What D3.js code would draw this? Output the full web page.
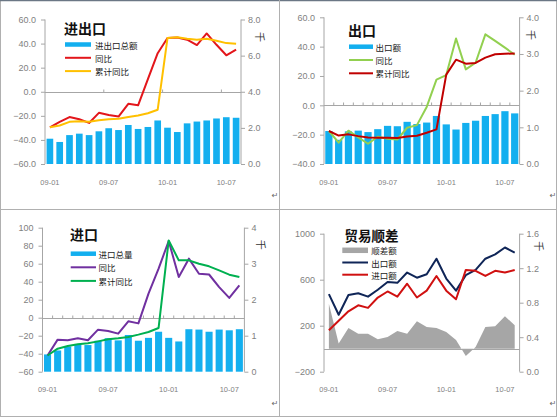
<!DOCTYPE html>
<html><head><meta charset="utf-8">
<script src="https://cdn.jsdelivr.net/npm/d3@7"></script>
<style>body{margin:0;background:#fff}svg{display:block}</style>
</head><body><svg id="c" width="557" height="417"></svg>
<script>
// ---- data ----
const months = ["09-01","09-02","09-03","09-04","09-05","09-06","09-07","09-08","09-09","09-10","09-11","09-12",
                "10-01","10-02","10-03","10-04","10-05","10-06","10-07","10-08"];
const shownLabels = ["09-01","09-07","10-01","10-07"];

// 进出口 (千 = right axis, % = left axis)
const totalTrade = [1.40,1.22,1.60,1.68,1.60,1.81,1.98,1.88,2.16,1.94,2.05,2.41,2.01,1.77,2.25,2.35,2.41,2.52,2.59,2.56];
const totalYoY   = [-29.5,-25.0,-21.0,-22.8,-25.9,-17.5,-19.3,-20.6,-10.0,-11.3,10.5,32.0,44.6,45.0,43.2,38.8,48.4,39.0,30.3,35.0];
const totalCum   = [-29.5,-28.0,-25.0,-24.5,-25.0,-23.6,-22.8,-22.5,-21.0,-19.7,-17.8,-14.9,44.6,45.3,44.0,43.2,44.0,42.4,40.4,39.9];

// 出口
const exportAmt  = [0.90,0.66,0.89,0.91,0.87,0.95,1.04,1.03,1.15,1.09,1.13,1.31,1.08,0.94,1.12,1.18,1.31,1.36,1.44,1.38];
const exportYoY  = [-17.5,-25.5,-17.3,-21.8,-26.2,-21.4,-22.8,-23.3,-15.3,-13.5,-1.1,17.5,20.6,45.5,24.5,29.0,48.4,43.9,39.3,34.5];
const exportCum  = [-17.5,-20.6,-19.8,-21.0,-22.0,-22.1,-22.1,-22.2,-21.2,-20.7,-18.7,-16.4,20.9,31.1,28.4,28.9,32.5,34.8,35.2,35.3];

// 进口
const importAmt  = [0.48,0.59,0.70,0.77,0.74,0.86,0.93,0.87,1.02,0.86,0.94,1.11,0.94,0.84,1.18,1.17,1.11,1.17,1.15,1.18];
const importYoY  = [-42.0,-24.4,-25.0,-22.9,-25.0,-13.3,-14.8,-17.7,-4.0,-6.3,26.7,54.5,85.2,45.2,65.6,48.9,48.0,34.0,22.0,36.0];
const importCum  = [-42.0,-34.4,-31.5,-29.6,-28.5,-26.3,-24.0,-22.9,-21.4,-18.8,-15.9,-11.4,85.9,63.7,63.7,60.0,57.1,52.6,47.8,45.2];

// 贸易顺差 (亿美元, left axis)
const surplus    = [391,45,180,130,130,82,102,154,130,238,189,180,145,75,-63,15,189,195,282,203];

// ---- styling ----
const BAR = "#13AFEF";
const AXIS = "#a6a6a6";
const TICKTXT = "#7f7f7f";
const NUMFONT = "'Liberation Sans', Arial, sans-serif";
const CJK = "'Noto Sans CJK SC', sans-serif";

const svg = d3.select("#c");

// panel frames (Word table borders)
svg.append("rect").attr("x",0.5).attr("y",0.5).attr("width",556).attr("height",416)
  .attr("fill","none").attr("stroke","#b0b0b0");
svg.append("line").attr("x1",0).attr("x2",557).attr("y1",0.5).attr("y2",0.5).attr("stroke","#6b7785").attr("stroke-width",1.5);
svg.append("line").attr("x1",279.5).attr("x2",279.5).attr("y1",0).attr("y2",417).attr("stroke","#b0b0b0");
svg.append("line").attr("x1",0).attr("x2",557).attr("y1",209.5).attr("y2",209.5).attr("stroke","#b0b0b0");

function drawPanel(cfg){
  const g = svg.append("g");
  const x = d3.scaleBand().domain(months).range([cfg.x0,cfg.x1]).paddingInner(cfg.pad).paddingOuter(cfg.pad/2);
  const cx = m => x(m) + x.bandwidth()/2;
  const yL = d3.scaleLinear().domain(cfg.left.domain).range([cfg.bottom,cfg.top]);
  const yR = d3.scaleLinear().domain(cfg.right.domain).range([cfg.bottom,cfg.top]);

  // bars (right axis)
  if (cfg.bars){
    g.selectAll(null).data(cfg.bars).enter().append("rect")
      .attr("x",(d,i)=>x(months[i])).attr("width",x.bandwidth())
      .attr("y",d=>yR(d)).attr("height",d=>yR(0)-yR(d)).attr("fill",BAR);
  }
  // area (left axis)
  if (cfg.area){
    const area = d3.area().x((d,i)=>cx(months[i])).y0(yL(0)).y1(d=>yL(d));
    g.append("path").datum(cfg.area.data).attr("d",area).attr("fill",cfg.area.color);
  }

  // left axis
  const la = d3.axisLeft(yL).tickValues(cfg.left.ticks).tickSize(4).tickPadding(5).tickFormat(d3.format(cfg.left.fmt));
  const lg = g.append("g").attr("transform",`translate(${cfg.x0},0)`).call(la);
  // right axis
  const ra = d3.axisRight(yR).tickValues(cfg.right.ticks).tickSize(4).tickPadding(3).tickFormat(d3.format(cfg.right.fmt));
  const rg = g.append("g").attr("transform",`translate(${cfg.x1},0)`).call(ra);
  [lg,rg].forEach(a=>{
    a.select(".domain").attr("stroke",AXIS).attr("d", null);
    a.selectAll(".tick line").attr("stroke",AXIS);
    a.selectAll("text").attr("fill",TICKTXT).attr("font-family",NUMFONT).attr("font-size",9);
  });
  g.append("line").attr("x1",cfg.x0).attr("x2",cfg.x0).attr("y1",cfg.top).attr("y2",cfg.bottom).attr("stroke",AXIS);
  g.append("line").attr("x1",cfg.x1).attr("x2",cfg.x1).attr("y1",cfg.top).attr("y2",cfg.bottom).attr("stroke",AXIS);

  // zero (category) line
  const y0 = Math.round(yL(0))+0.5;
  g.append("line").attr("x1",cfg.x0).attr("x2",cfg.x1).attr("y1",y0).attr("y2",y0).attr("stroke",AXIS);
  if (cfg.catTickEvery){
    const bounds = d3.range(cfg.catTickEvery, months.length, cfg.catTickEvery);
    g.selectAll(null).data(bounds).enter().append("line")
      .attr("x1",i=>x(months[i]) - x.step()*x.paddingInner()/2).attr("x2",i=>x(months[i]) - x.step()*x.paddingInner()/2)
      .attr("y1",y0).attr("y2",y0-3).attr("stroke",AXIS);
  }

  // lines
  cfg.lines.forEach(s=>{
    const sc = s.axis==="right" ? yR : yL;
    const line = d3.line().x((d,i)=>cx(months[i])).y(d=>sc(d));
    g.append("path").datum(s.data).attr("d",line).attr("fill","none")
      .attr("stroke",s.color).attr("stroke-width",s.width||2).attr("stroke-linejoin","round");
  });

  // x labels
  g.selectAll(null).data(shownLabels).enter().append("text")
    .attr("x",m=>cx(m)).attr("y",cfg.xLabelY).attr("text-anchor","middle").attr("dominant-baseline","central")
    .attr("font-family",NUMFONT).attr("font-size",7.5).attr("fill",TICKTXT).text(m=>m);

  // title
  g.append("text").attr("x",cfg.title.x).attr("y",cfg.title.y).attr("dominant-baseline","central")
    .attr("font-family",CJK).attr("font-weight","bold").attr("font-size",cfg.title.size||14).attr("fill","#111")
    .text(cfg.title.text);

  // legend
  cfg.legend.items.forEach((it,i)=>{
    const ly = cfg.legend.y + i*cfg.legend.step;
    if (it.kind==="bar"){
      g.append("rect").attr("x",cfg.legend.sx0).attr("width",cfg.legend.sx1-cfg.legend.sx0)
        .attr("y",ly-it.h/2).attr("height",it.h).attr("fill",it.color);
    } else {
      g.append("line").attr("x1",cfg.legend.sx0).attr("x2",cfg.legend.sx1).attr("y1",ly).attr("y2",ly)
        .attr("stroke",it.color).attr("stroke-width",2);
    }
    g.append("text").attr("x",cfg.legend.tx).attr("y",ly).attr("dominant-baseline","central")
      .attr("font-family",CJK).attr("font-size",8.5).attr("fill","#1a1a1a").text(it.label);
  });

  // unit label 千
  g.append("text").attr("transform",`translate(${cfg.unit[0]},${cfg.unit[1]}) rotate(90)`)
    .attr("text-anchor","middle").attr("dominant-baseline","central")
    .attr("font-family",CJK).attr("font-size",10).attr("fill","#333").text("千");
}

drawPanel({
  x0:45, x1:241, top:19.5, bottom:164, pad:0.32,
  left:{domain:[-60,60], ticks:[-60,-40,-20,0,20,40,60], fmt:".1f"},
  right:{domain:[0,8], ticks:[0,2,4,6,8], fmt:".1f"},
  bars: totalTrade,
  lines:[{data:totalYoY,color:"#E3161B"},{data:totalCum,color:"#FFC000"}],
  catTickEvery:6, xLabelY:182,
  title:{text:"进出口", x:64, y:27.5},
  legend:{sx0:65, sx1:91, tx:95, y:44.5, step:13.3,
    items:[{kind:"bar",h:4.5,color:BAR,label:"进出口总额"},{kind:"line",color:"#E3161B",label:"同比"},{kind:"line",color:"#FFC000",label:"累计同比"}]},
  unit:[260,37]
});

drawPanel({
  x0:324, x1:519.6, top:17.3, bottom:164, pad:0.26,
  left:{domain:[-40,60], ticks:[-40,-20,0,20,40,60], fmt:".1f"},
  right:{domain:[0,4], ticks:[0,1,2,3,4], fmt:".1f"},
  bars: exportAmt,
  lines:[{data:exportYoY,color:"#92D050"},{data:exportCum,color:"#C00000"}],
  catTickEvery:1, xLabelY:182,
  title:{text:"出口", x:348, y:29.5},
  legend:{sx0:349, sx1:373, tx:375.5, y:46.7, step:13.3,
    items:[{kind:"bar",h:4.5,color:BAR,label:"出口额"},{kind:"line",color:"#92D050",label:"同比"},{kind:"line",color:"#C00000",label:"累计同比"}]},
  unit:[531.5,35]
});

drawPanel({
  x0:42.5, x1:244.4, top:227.7, bottom:371.7, pad:0.3,
  left:{domain:[-60,100], ticks:[-60,-40,-20,0,20,40,60,80,100], fmt:"d"},
  right:{domain:[0,4], ticks:[0,1,2,3,4], fmt:"d"},
  bars: importAmt,
  lines:[{data:importYoY,color:"#7030A0"},{data:importCum,color:"#00B050"}],
  catTickEvery:1, xLabelY:389.7,
  title:{text:"进口", x:70, y:234},
  legend:{sx0:70.7, sx1:96, tx:98.5, y:253.7, step:13.6,
    items:[{kind:"bar",h:4.5,color:BAR,label:"进口总量"},{kind:"line",color:"#7030A0",label:"同比"},{kind:"line",color:"#00B050",label:"累计同比"}]},
  unit:[261.7,244.7]
});

drawPanel({
  x0:324, x1:519.6, top:233.7, bottom:371.7, pad:0.3,
  left:{domain:[-200,1000], ticks:[-200,200,600,1000], fmt:"d"},
  right:{domain:[0,1.6], ticks:[0,0.4,0.8,1.2,1.6], fmt:".1f"},
  area:{data:surplus, color:"#A6A6A6"},
  lines:[{data:exportAmt,color:"#0F2557",axis:"right"},{data:importAmt,color:"#D01010",axis:"right"}],
  catTickEvery:0, xLabelY:389.7,
  title:{text:"贸易顺差", x:344.5, y:234.5, size:13.5},
  legend:{sx0:342.3, sx1:368, tx:371.3, y:250.3, step:12.2,
    items:[{kind:"bar",h:5.5,color:"#A6A6A6",label:"顺差额"},{kind:"line",color:"#0F2557",label:"出口额"},{kind:"line",color:"#D01010",label:"进口额"}]},
  unit:[539.7,246.3]
});

// Word paragraph marks
[[275,195],[553,195],[275,403],[553,403]].forEach(p=>{
  svg.append("text").attr("x",p[0]).attr("y",p[1]).attr("text-anchor","middle").attr("dominant-baseline","central")
    .attr("font-family","'DejaVu Sans', sans-serif").attr("font-size",8).attr("fill","#666").text("↵");
});
</script></body></html>
